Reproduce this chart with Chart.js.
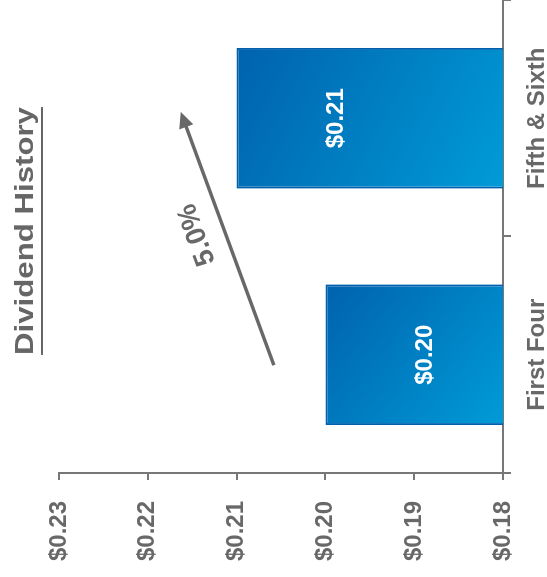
<!DOCTYPE html>
<html>
<head>
<meta charset="utf-8">
<title>Dividend History</title>
<script src="https://cdn.jsdelivr.net/npm/chart.js@4.4.1/dist/chart.umd.min.js"></script>
<style>
  html, body { margin: 0; padding: 0; background: #fff; overflow: hidden; }
  #page { position: relative; width: 547px; height: 577px; overflow: hidden; }
  /* the chart is laid out upright and then turned a quarter to the left */
  #frame {
    position: absolute; left: 0; top: 0;
    width: 582px; height: 547px;
    transform-origin: 0 0;
    transform: translateY(582px) rotate(-90deg);
  }
  #frame canvas { position: absolute; left: 0; top: 0; }
  #title {
    position: absolute; left: 151px; top: 11px; width: 400px;
    text-align: center;
    font: bold 26px "Liberation Sans", Arial, sans-serif;
    line-height: 26px;
    color: #666666;
    text-decoration: underline;
    text-decoration-thickness: 2px;
    text-underline-offset: 8px;
    transform: scaleX(1.2);
    transform-origin: 50% 50%;
  }
</style>
</head>
<body>
<div id="page">
  <div id="frame">
    <canvas id="chart" width="582" height="547"></canvas>
    <div id="title">Dividend History</div>
  </div>
</div>
<script>
const categories = ['First Four', 'Fifth & Sixth'];
const dividends = [0.20, 0.21];
const yTickValues = [0.18, 0.19, 0.20, 0.21, 0.22, 0.23];

// growth arrow, in (category index, dollars)
const arrowFrom = [-0.044, 0.2058];
const arrowTo = [1.027, 0.2163];
const arrowLabel = '5.0%';

const gray = '#686868';
const axisGray = '#777777';
const barDark = '#0062ae';
const barLight = '#009bd7';
const fontFamily = '"Liberation Sans", Arial, sans-serif';

const money = v => '$' + v.toFixed(2);

function barGradient(ctx) {
  if (ctx.type !== 'data') return barDark;
  const chart = ctx.chart;
  const xs = chart.scales.x, ys = chart.scales.y;
  if (!xs || !ys) return barDark;
  const cx = xs.getPixelForValue(ctx.dataIndex);
  const half = xs.width / categories.length * 0.595 / 2;
  const top = ys.getPixelForValue(dividends[ctx.dataIndex]);
  const bottom = ys.bottom;
  if (![cx, half, top, bottom].every(Number.isFinite)) return barDark;
  const g = chart.ctx.createLinearGradient(cx + half, top, cx - half, bottom);
  g.addColorStop(0, barDark);
  g.addColorStop(1, barLight);
  return g;
}

const valueLabels = {
  id: 'valueLabels',
  afterDatasetsDraw(chart) {
    const ctx = chart.ctx;
    const meta = chart.getDatasetMeta(0);
    ctx.save();
    ctx.fillStyle = '#ffffff';
    ctx.font = 'bold 24px ' + fontFamily;
    ctx.textAlign = 'center';
    ctx.textBaseline = 'middle';
    meta.data.forEach((bar, i) => {
      ctx.fillText(money(dividends[i]), bar.x, bar.y + 100);
    });
    ctx.restore();
  }
};

const growthArrow = {
  id: 'growthArrow',
  afterDatasetsDraw(chart) {
    const xs = chart.scales.x, ys = chart.scales.y;
    const x0 = xs.getPixelForValue(arrowFrom[0]), y0 = ys.getPixelForValue(arrowFrom[1]);
    const x1 = xs.getPixelForValue(arrowTo[0]), y1 = ys.getPixelForValue(arrowTo[1]);
    const ang = Math.atan2(y1 - y0, x1 - x0);
    const headLen = 16, headHalf = 7.5;
    const ctx = chart.ctx;
    ctx.save();
    ctx.strokeStyle = gray;
    ctx.fillStyle = gray;
    ctx.lineWidth = 3.5;
    ctx.beginPath();
    ctx.moveTo(x0, y0);
    ctx.lineTo(x1 - Math.cos(ang) * headLen * 0.8, y1 - Math.sin(ang) * headLen * 0.8);
    ctx.stroke();
    // head
    ctx.translate(x1, y1);
    ctx.rotate(ang);
    ctx.beginPath();
    ctx.moveTo(0, 0);
    ctx.lineTo(-headLen, -headHalf);
    ctx.lineTo(-headLen, headHalf);
    ctx.closePath();
    ctx.fill();
    ctx.restore();

    // percentage written along the arrow, above it
    const len = Math.hypot(x1 - x0, y1 - y0);
    const mx = (x0 + x1) / 2, my = (y0 + y1) / 2;
    const dx = (x1 - x0) / len, dy = (y1 - y0) / len;
    const tx = mx + dx * 14 + dy * 27;
    const ty = my + dy * 14 - dx * 27;
    ctx.save();
    ctx.translate(tx, ty);
    ctx.rotate(ang);
    ctx.fillStyle = gray;
    ctx.font = 'bold 28px ' + fontFamily;
    ctx.textAlign = 'center';
    ctx.textBaseline = 'middle';
    ctx.fillText(arrowLabel, 0, 0);
    ctx.restore();
  }
};

new Chart(document.getElementById('chart'), {
  type: 'bar',
  data: {
    labels: categories,
    datasets: [{
      data: dividends,
      backgroundColor: barGradient,
      borderColor: '#0060ad',
      borderWidth: 2,
      borderSkipped: 'bottom',
      barPercentage: 0.595,
      categoryPercentage: 1
    }]
  },
  options: {
    responsive: false,
    animation: false,
    layout: { padding: { top: 59, left: 0, right: 0, bottom: 0 } },
    plugins: {
      legend: { display: false },
      tooltip: { enabled: false },
      title: { display: false }
    },
    scales: {
      x: {
        offset: true,
        afterFit: s => { s.height = 44; },
        border: { display: true, color: axisGray, width: 2 },
        grid: {
          offset: true,
          drawOnChartArea: false,
          drawTicks: true,
          tickLength: 8,
          color: axisGray,
          lineWidth: 2
        },
        ticks: {
          padding: 12,
          color: gray,
          font: { family: fontFamily, size: 24, weight: 'bold' }
        }
      },
      y: {
        min: 0.18,
        max: 0.23,
        afterBuildTicks: s => { s.ticks = yTickValues.map(v => ({ value: v })); },
        afterFit: s => { s.width = 109; },
        border: { display: true, color: axisGray, width: 2 },
        grid: {
          drawOnChartArea: false,
          drawTicks: true,
          tickLength: 7,
          color: axisGray,
          lineWidth: 2
        },
        ticks: {
          padding: 21,
          color: gray,
          font: { family: fontFamily, size: 24, weight: 'bold' },
          callback: v => money(v)
        }
      }
    }
  },
  plugins: [valueLabels, growthArrow]
});
</script>
</body>
</html>
